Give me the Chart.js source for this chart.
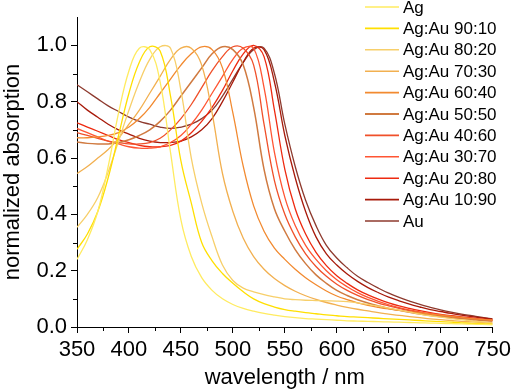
<!DOCTYPE html>
<html>
<head>
<meta charset="utf-8">
<script src="https://cdn.jsdelivr.net/npm/chart.js@4.4.0/dist/chart.umd.min.js"></script>
<style>
  html, body { margin: 0; padding: 0; background: #fff; }
</style>
</head>
<body>
<canvas id="myChart" width="515" height="391"></canvas>
<script>
// wavelength grid (nm)
const wavelengths = [350,360,370,380,390,400,410,420,430,440,450,460,470,480,490,500,510,520,530,540,550,
  560,570,580,590,600,610,620,630,640,650,660,670,680,690,700,710,720,730,740,750];

const seriesLabels = ["Ag", "Ag:Au 90:10", "Ag:Au 80:20", "Ag:Au 70:30", "Ag:Au 60:40", "Ag:Au 50:50",
  "Ag:Au 40:60", "Ag:Au 30:70", "Ag:Au 20:80", "Ag:Au 10:90", "Au"];

const ag = [.24,.31,.41,.57,.76,.91,.99,.985,.87,.62,.38,.25,.175,.13,.10,.08,.066,.056,.048,.042,.037,
  .033,.03,.028,.026,.024,.022,.021,.02,.019,.018,.017,.016,.015,.014,.013,.012,.011,.01,.009,.008];
const agau9010 = [.276,.33,.41,.53,.68,.83,.94,.995,.98,.82,.59,.44,.30,.235,.19,.155,.125,.10,.083,.071,.062,
  .056,.051,.047,.043,.04,.037,.035,.033,.031,.029,.027,.025,.023,.021,.019,.017,.015,.013,.012,.01];
const agau8020 = [.354,.40,.46,.55,.66,.77,.87,.95,.995,.99,.84,.60,.44,.32,.22,.165,.138,.125,.115,.107,.10,
  .097,.095,.094,.093,.092,.09,.086,.08,.074,.067,.06,.053,.046,.04,.035,.03,.026,.022,.018,.015];
const agau7030 = [.545,.57,.60,.63,.67,.72,.77,.83,.89,.95,.99,.99,.93,.76,.545,.41,.315,.25,.205,.172,.147,
  .127,.111,.098,.087,.078,.07,.063,.057,.051,.046,.041,.037,.033,.029,.026,.023,.02,.018,.016,.014];
const agau6040 = [.672,.672,.675,.68,.69,.71,.74,.78,.83,.88,.93,.97,.995,.985,.92,.76,.57,.43,.34,.28,.24,
  .205,.175,.15,.128,.11,.097,.086,.077,.07,.064,.059,.054,.05,.046,.042,.038,.034,.03,.027,.024];
const agau5050 = [.657,.652,.65,.65,.655,.665,.68,.70,.73,.77,.82,.87,.92,.97,.995,.985,.93,.78,.56,.42,.34,
  .275,.225,.185,.155,.13,.112,.097,.085,.075,.066,.059,.052,.046,.041,.037,.033,.029,.026,.023,.021];
const agau4060 = [.69,.68,.67,.66,.655,.65,.65,.655,.67,.70,.74,.79,.85,.91,.96,.995,.99,.93,.72,.52,.40,
  .32,.26,.215,.18,.152,.13,.112,.097,.085,.075,.066,.058,.051,.045,.04,.036,.032,.028,.025,.022];
const agau3070 = [.705,.69,.675,.66,.65,.64,.635,.635,.64,.655,.68,.72,.77,.83,.89,.95,.99,.99,.85,.62,.46,
  .36,.29,.24,.20,.168,.143,.122,.105,.091,.079,.069,.061,.054,.048,.043,.038,.034,.03,.027,.024];
const agau2080 = [.725,.71,.695,.68,.665,.655,.645,.64,.64,.645,.66,.69,.73,.78,.84,.91,.97,1.0,.96,.77,.56,
  .42,.33,.265,.218,.182,.155,.132,.114,.099,.086,.075,.066,.058,.051,.045,.04,.036,.032,.028,.025];
const agau1090 = [.80,.77,.745,.72,.70,.685,.67,.66,.655,.655,.66,.675,.70,.74,.80,.87,.94,.99,.985,.87,.68,
  .53,.41,.32,.26,.22,.188,.162,.14,.122,.106,.093,.081,.071,.062,.055,.048,.042,.037,.032,.028];
const au = [.86,.835,.81,.785,.765,.745,.73,.72,.71,.705,.71,.72,.74,.77,.82,.88,.94,.985,.99,.90,.72,
  .57,.45,.36,.29,.245,.21,.18,.158,.138,.12,.105,.092,.08,.07,.061,.053,.046,.04,.034,.029];

const allSeries = [ag, agau9010, agau8020, agau7030, agau6040, agau5050, agau4060, agau3070, agau2080, agau1090, au];
const colors = ["#FFEB60", "#FFDF00", "#F7CF6A", "#F2B050", "#F28A30", "#D07A40",
  "#F0502A", "#FF5533", "#EE2A10", "#A81A0A", "#8E3A2E"];

const xTicks = [350, 400, 450, 500, 550, 600, 650, 700, 750];
const yTicks = [0, 0.2, 0.4, 0.6, 0.8, 1.0];
const xMinor = [375, 425, 475, 525, 575, 625, 675, 725];
const yMinor = [0.1, 0.3, 0.5, 0.7, 0.9];

const fontFamily = '"Liberation Sans", Arial, sans-serif';

const datasets = allSeries.map((vals, i) => ({
  label: seriesLabels[i],
  data: wavelengths.map((w, j) => ({ x: w, y: vals[j] })),
  borderColor: colors[i],
  borderWidth: i === 5 ? 1.5 : 1.3,
  pointRadius: 0,
  tension: 0.4,
  fill: false,
}));

// minor ticks + legend drawn on top
const extras = {
  id: "extras",
  afterDraw(chart) {
    const ctx = chart.ctx;
    const xs = chart.scales.x;
    const ys = chart.scales.y;
    ctx.save();
    ctx.strokeStyle = "#000";
    ctx.lineWidth = 1;
    xMinor.forEach((v) => {
      const px = Math.round(xs.getPixelForValue(v)) + 0.5;
      ctx.beginPath();
      ctx.moveTo(px, ys.bottom);
      ctx.lineTo(px, ys.bottom + 4);
      ctx.stroke();
    });
    yMinor.forEach((v) => {
      const py = Math.round(ys.getPixelForValue(v)) + 0.5;
      ctx.beginPath();
      ctx.moveTo(xs.left, py);
      ctx.lineTo(xs.left - 4, py);
      ctx.stroke();
    });
    // legend
    chart.data.datasets.forEach((ds, i) => {
      const y = 7 + i * 21.4;
      ctx.strokeStyle = ds.borderColor;
      ctx.lineWidth = i === 5 ? 2.2 : 1.6;
      ctx.beginPath();
      ctx.moveTo(365, y);
      ctx.lineTo(399, y);
      ctx.stroke();
      ctx.fillStyle = "#000";
      ctx.font = "17px " + fontFamily;
      ctx.textBaseline = "middle";
      ctx.fillText(ds.label, 403, y + 1);
    });
    ctx.restore();
  },
};

const config = {
  type: "line",
  data: { datasets: datasets },
  options: {
    responsive: false,
    animation: false,
    devicePixelRatio: 1,
    layout: { padding: { top: 16, right: 20, left: 0, bottom: 0 } },
    plugins: { legend: { display: false }, tooltip: { enabled: false } },
    scales: {
      x: {
        type: "linear",
        min: 350,
        max: 750,
        afterFit: (scale) => { scale.height = 64; },
        afterBuildTicks: (scale) => { scale.ticks = xTicks.map((v) => ({ value: v })); },
        grid: { drawOnChartArea: false, drawTicks: true, tickLength: 6, color: "#000" },
        border: { display: true, color: "#000", width: 1 },
        ticks: { color: "#000", padding: 4, maxRotation: 0, font: { family: fontFamily, size: 22 } },
        title: {
          display: true,
          text: "wavelength / nm",
          color: "#000",
          padding: 0,
          font: { family: fontFamily, size: 22 },
        },
      },
      y: {
        min: 0,
        max: 1.1,
        afterFit: (scale) => { scale.width = 77; },
        afterBuildTicks: (scale) => { scale.ticks = yTicks.map((v) => ({ value: v })); },
        grid: { drawOnChartArea: false, drawTicks: true, tickLength: 6, color: "#000" },
        border: { display: true, color: "#000", width: 1 },
        ticks: {
          color: "#000",
          padding: 4,
          font: { family: fontFamily, size: 22 },
          callback: (v) => Number(v).toFixed(1),
        },
        title: {
          display: true,
          text: "normalized absorption",
          color: "#000",
          padding: 0,
          font: { family: fontFamily, size: 22 },
        },
      },
    },
  },
  plugins: [extras],
};

const myChart = new Chart(document.getElementById("myChart"), config);
</script>
</body>
</html>
